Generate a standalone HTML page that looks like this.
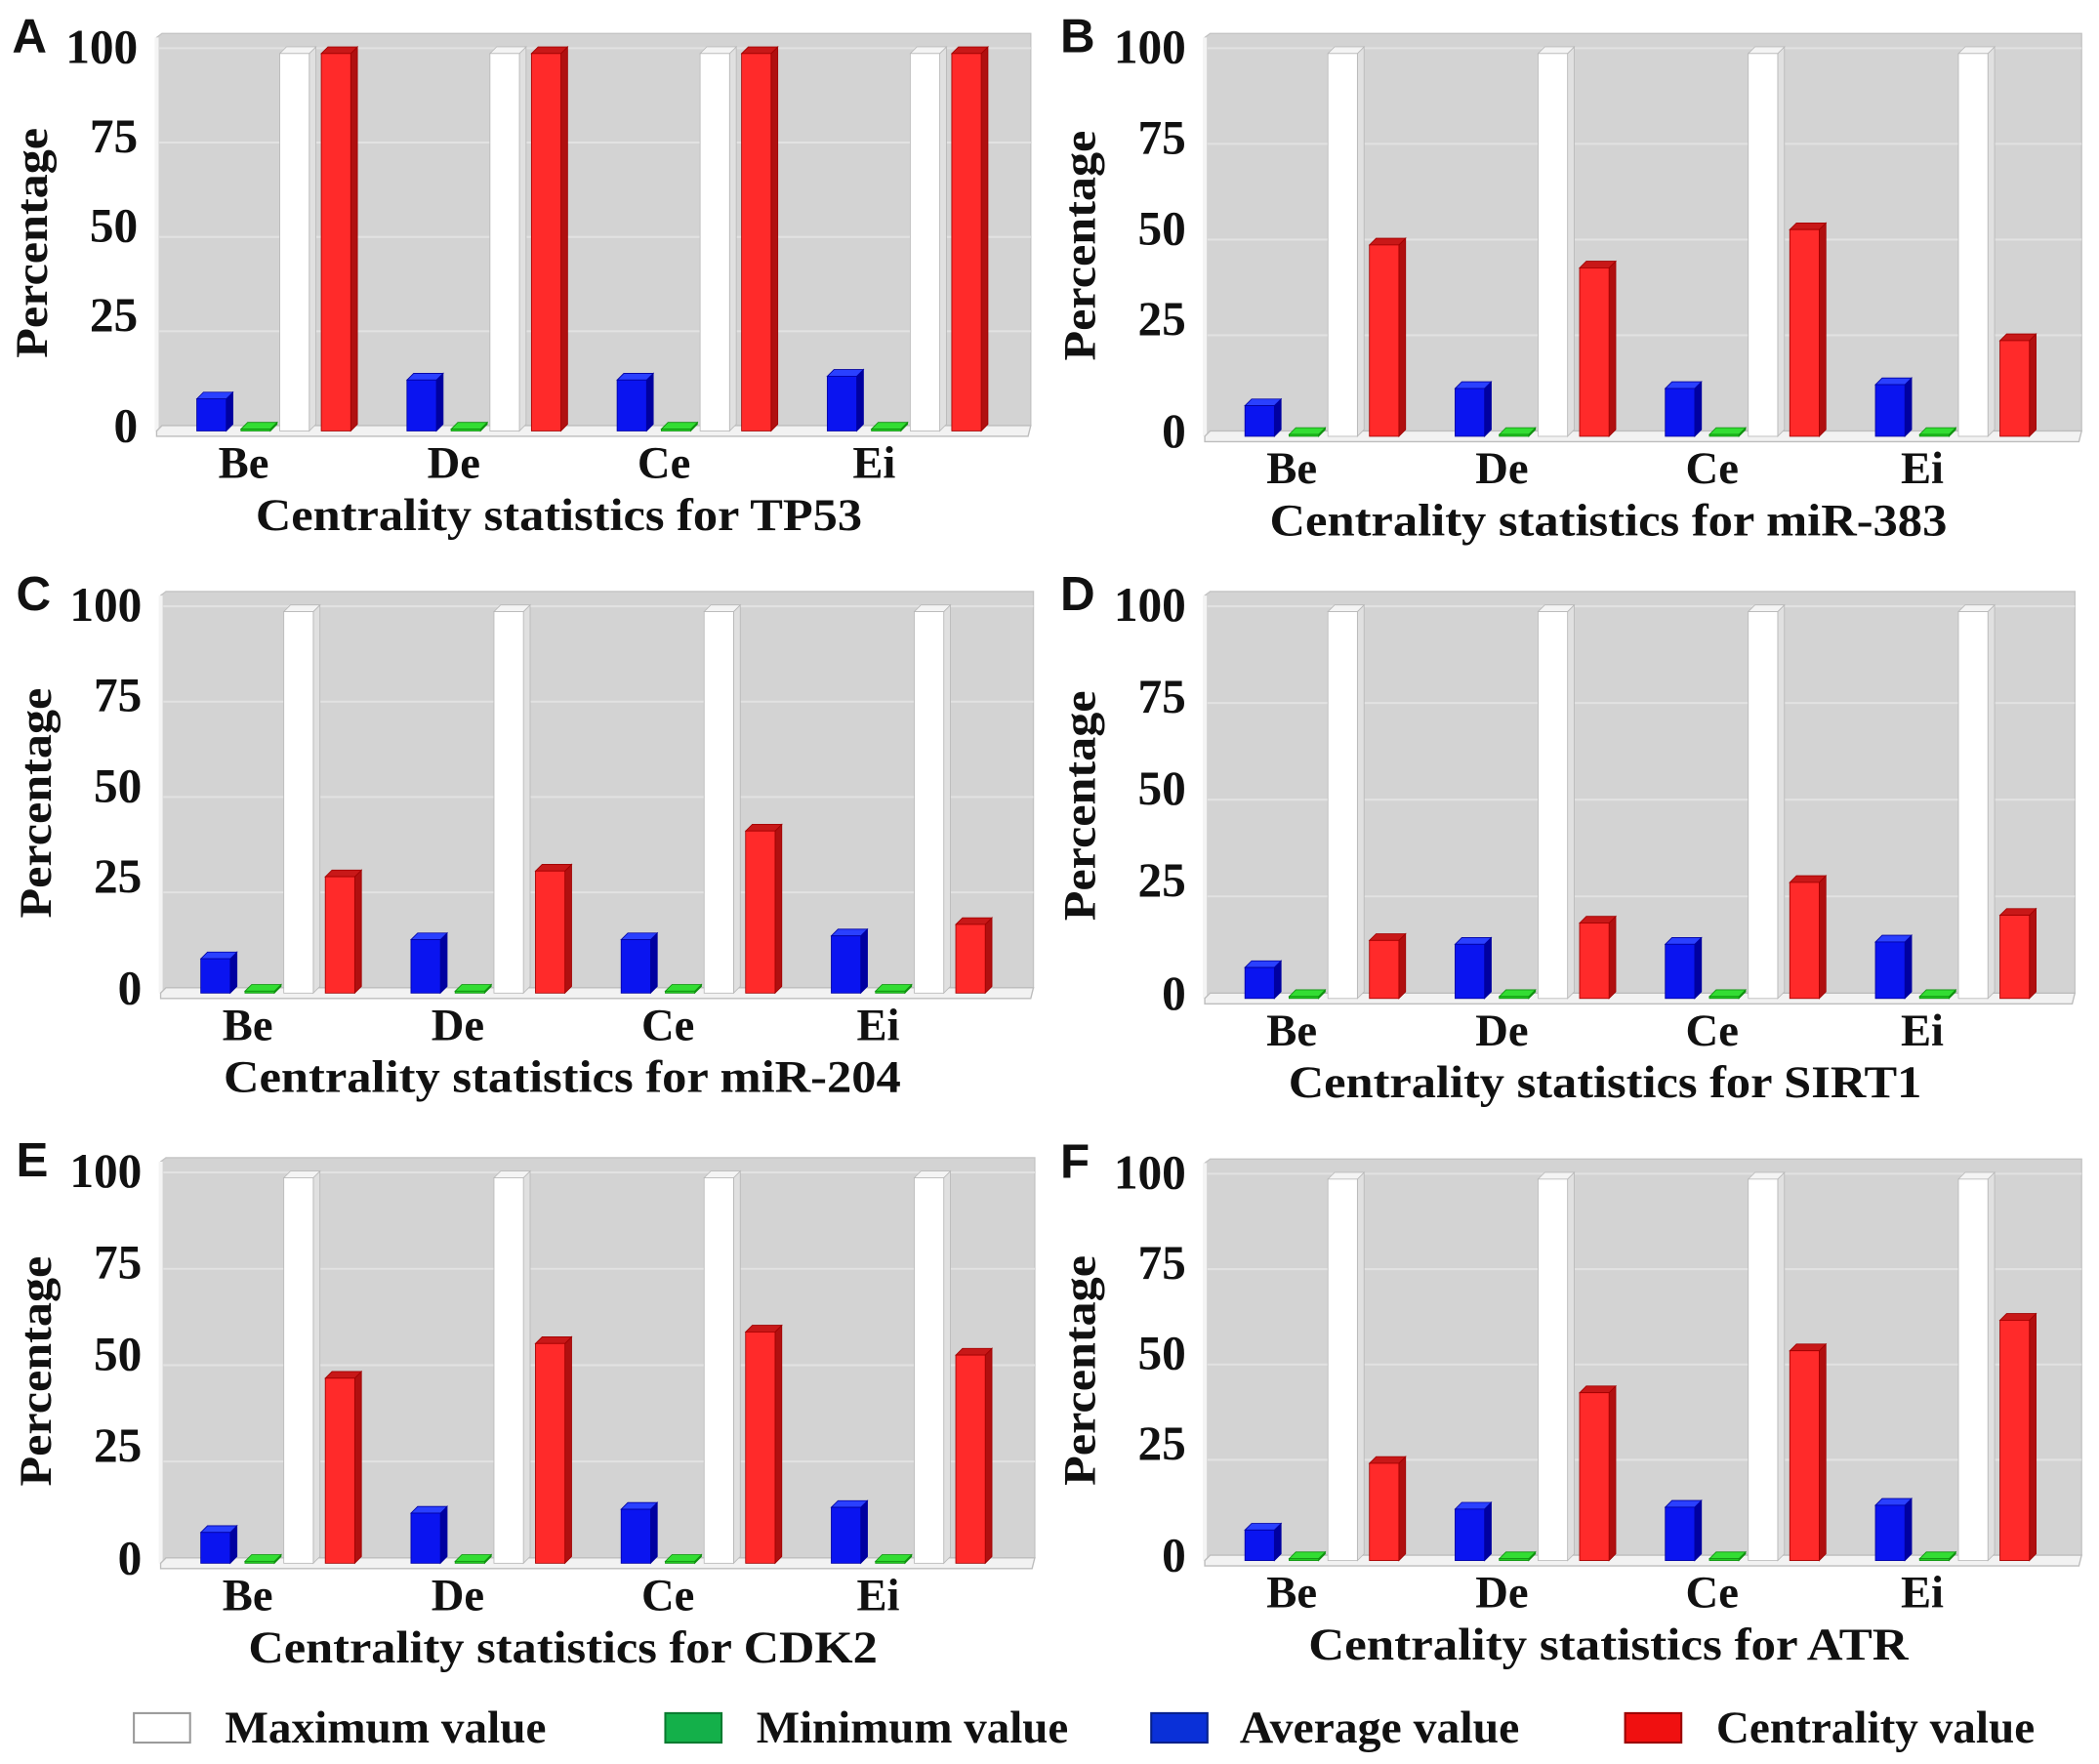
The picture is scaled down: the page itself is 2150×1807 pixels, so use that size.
<!DOCTYPE html>
<html><head><meta charset="utf-8"><style>
html,body{margin:0;padding:0;background:#fff;}
svg{display:block;}
text{font-family:"Liberation Serif",serif;font-weight:bold;fill:#111;}
</style></head><body>
<svg id="fig" width="2150" height="1807" viewBox="0 0 1568 1318" preserveAspectRatio="none" xmlns="http://www.w3.org/2000/svg">
  <g>
    <g><rect x="100" y="1280" width="42" height="22" fill="#fff" stroke="#999" stroke-width="1.5"/><text x="168" y="1302" font-size="34" textLength="240" lengthAdjust="spacingAndGlyphs">Maximum value</text></g>
    <g><rect x="497" y="1280" width="42" height="22" fill="#14b04a" stroke="#0a7a30" stroke-width="1.5"/><text x="565" y="1302" font-size="34" textLength="233" lengthAdjust="spacingAndGlyphs">Minimum value</text></g>
    <g><rect x="860" y="1280" width="42" height="22" fill="#0a30d8" stroke="#06208a" stroke-width="1.5"/><text x="926" y="1302" font-size="34" textLength="209" lengthAdjust="spacingAndGlyphs">Average value</text></g>
    <g><rect x="1214" y="1280" width="42" height="22" fill="#f01010" stroke="#900" stroke-width="1.5"/><text x="1282" y="1302" font-size="34" textLength="238" lengthAdjust="spacingAndGlyphs">Centrality value</text></g>
  </g>
</svg>
<script>
const categories = ["Be","De","Ce","Ei"];
const panelLetters = ["A","B","C","D","E","F"];
const panelTitles = ["Centrality statistics for TP53","Centrality statistics for miR-383","Centrality statistics for miR-204","Centrality statistics for SIRT1","Centrality statistics for CDK2","Centrality statistics for ATR"];
const yTicks = [0,25,50,75,100];
const maxVals = [[100,100,100,100],[100,100,100,100],[100,100,100,100],[100,100,100,100],[100,100,100,100],[100,100,100,100]];
const minVals = [[0.5,0.5,0.5,0.5],[0.5,0.5,0.5,0.5],[0.5,0.5,0.5,0.5],[0.5,0.5,0.5,0.5],[0.5,0.5,0.5,0.5],[0.5,0.5,0.5,0.5]];
const avgVals = [[8.5,13.5,13.5,14.5],[8,12.5,12.5,13.5],[9,14,14,15],[8,14,14,14.6],[8,13,14,14.5],[8,13.5,14,14.5]];
const centVals = [[100,100,100,100],[50,44,54,25],[30.5,32,42.5,18],[15,19.5,30,21.5],[48,57,60,54],[25.5,44,55,63]];

// layout (not data)
const frames = [
  {x0:117,top:25,base:322,right:770,tw:453},
  {x0:900,top:25,base:326,right:1555,tw:506},
  {x0:120,top:442,base:742,right:772,tw:506},
  {x0:900,top:442,base:746,right:1550,tw:473},
  {x0:120,top:865,base:1168,right:773,tw:470},
  {x0:900,top:866,base:1166,right:1555,tw:448}
];
const NS = "http://www.w3.org/2000/svg";
const svg = document.getElementById("fig");
function mk(tag, attrs, parent){const e=document.createElementNS(NS,tag);for(const k in attrs)e.setAttribute(k,attrs[k]);parent.appendChild(e);return e;}

function bar3d(g, x, w, yb, yt, front, side, topc, stroke){
  const d=5;
  mk("polygon",{points:`${x+w},${yt} ${x+w+d},${yt-d} ${x+w+d},${yb-d} ${x+w},${yb}`,fill:side,stroke:stroke,"stroke-width":0.6},g);
  mk("polygon",{points:`${x},${yt} ${x+d},${yt-d} ${x+w+d},${yt-d} ${x+w},${yt}`,fill:topc,stroke:stroke,"stroke-width":0.6},g);
  mk("rect",{x:x,y:yt,width:w,height:Math.max(0,yb-yt),fill:front,stroke:stroke,"stroke-width":0.6},g);
}

frames.forEach((f,p)=>{
  const g = mk("g",{},svg);
  
  
  const unit = (f.base - (f.top+15))/100;
  const yS = v => f.base - v*unit;
  const xS = (i,k) => f.x0 + 30 + i*157 + k*31;
  const bg = mk("polygon",{points:`${f.x0},${f.top+3} ${f.x0+4},${f.top} ${f.right},${f.top} ${f.right},${f.base-4} ${f.x0},${f.base}`,fill:"#d3d3d3",stroke:"#c4c4c4","stroke-width":1},g);
  
  
  mk("line",{x1:f.x0,y1:f.top+3,x2:f.x0,y2:f.base,stroke:"#f4f4f4","stroke-width":3},g);
  yTicks.forEach(v=>{
    if(v>0){const gl=mk("line",{x1:f.x0+2,y1:yS(v)-4,x2:f.right,y2:yS(v)-4,stroke:"#e2e2e2","stroke-width":1.5},g);
    
    }
    const ly = v===0 ? yS(v)-4 : yS(v)-20+0.15*v;
    const t=mk("text",{x:f.x0-14,y:ly,"text-anchor":"end","dominant-baseline":"central","font-size":36},g);
    t.textContent=v;
    
    
  });
  const fl = mk("polygon",{points:`${f.x0},${f.base} ${f.x0+4},${f.base-4} ${f.right},${f.base-4} ${f.right-2},${f.base+4} ${f.x0},${f.base+4}`,fill:"#f2f2f2",stroke:"#bdbdbd","stroke-width":1},g);
  
  
  categories.forEach((c,i)=>{
    const ga=mk("g",{},g);
    
    
    bar3d(ga,xS(i,0),22,f.base,yS(avgVals[p][i]),"#0a14f0","#0000a0","#2a40ff","#0000a0");
    const gm=mk("g",{},g);
    
    
    bar3d(gm,xS(i,1)+2,22,f.base,yS(minVals[p][i]),"#22cc22","#109010","#33dd33","#109010");
    const gx=mk("g",{},g);
    
    
    bar3d(gx,xS(i,2),22,f.base,yS(maxVals[p][i]),"#ffffff","#e0e0e0","#f4f4f4","#b8b8b8");
    const gc=mk("g",{},g);
    
    
    bar3d(gc,xS(i,3),22,f.base,yS(centVals[p][i]),"#ff2a2a","#b01010","#c81818","#a00000");
    const t=mk("text",{x:xS(i,0)+35,y:f.base+35,"text-anchor":"middle","font-size":34},g);
    t.textContent=c;
    
    
  });
  const cx=(f.x0+f.right)/2 - 26;
  const tt=mk("text",{x:cx,y:f.base+74,"text-anchor":"middle","font-size":34,textLength:f.tw,lengthAdjust:"spacingAndGlyphs"},g);
  tt.textContent=panelTitles[p];
  
  
  const ycx=f.x0-82, ycy=(f.top+f.base)/2+8;
  const yt=mk("text",{x:ycx,y:ycy,"text-anchor":"middle","font-size":34,transform:`rotate(-90 ${ycx} ${ycy})`,textLength:172,lengthAdjust:"spacingAndGlyphs"},g);
  yt.textContent="Percentage";
  
  
  const lt=mk("text",{x:f.x0-108,y:f.top+14,"font-size":36,style:"font-family:'Liberation Sans',sans-serif"},g);
  lt.textContent=panelLetters[p];
  
  
});
</script>
</body></html>
